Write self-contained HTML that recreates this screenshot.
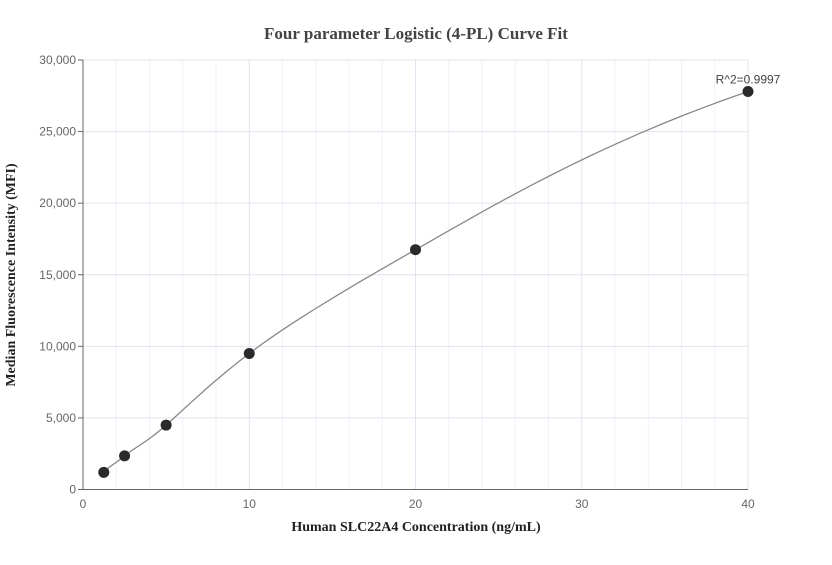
<!DOCTYPE html>
<html><head><meta charset="utf-8"><style>
body{margin:0;background:#fff;width:832px;height:560px;overflow:hidden}
svg{font-family:"Liberation Sans",sans-serif}
</style></head><body>
<svg id="chart" width="832" height="560">
<text x="416" y="39" text-anchor="middle" font-family="Liberation Serif" font-weight="bold" font-size="17" fill="#444">Four parameter Logistic (4-PL) Curve Fit</text>
<g id="grid"></g><g id="axes"></g><g id="marks"></g>
<text x="416" y="531" text-anchor="middle" font-family="Liberation Serif" font-weight="bold" font-size="14" fill="#222">Human SLC22A4 Concentration (ng/mL)</text>
<text transform="translate(15,275) rotate(-90)" text-anchor="middle" font-family="Liberation Serif" font-weight="bold" font-size="14" fill="#222">Median Fluorescence Intensity (MFI)</text>
</svg>
<script>
const xs=[1.25,2.5,5,10,20,40];
const ys=[1200,2350,4500,9500,16750,27800];
const xTicks=[0,10,20,30,40];
const yTicks=[0,5000,10000,15000,20000,25000,30000];
const r2Label="R^2=0.9997";
const X=v=>83+v*(748-83)/40, Y=v=>489.5-v*(489.5-60)/30000;
const NS="http://www.w3.org/2000/svg";
function mk(p,t,a){const e=document.createElementNS(NS,t);for(const k in a)e.setAttribute(k,a[k]);document.getElementById(p).appendChild(e);return e;}
for(let v=2;v<=40;v+=2){const l=mk('grid','line',{x1:X(v),x2:X(v),y1:60,y2:489.5,stroke:v%10?'#f0f2fa':'#e0e4ee'});

}
yTicks.forEach(v=>{if(v){const l=mk('grid','line',{x1:83,x2:748,y1:Y(v),y2:Y(v),stroke:'#e0e4ee'});

}
const t=mk('axes','text',{x:76,y:Y(v)+4,'text-anchor':'end','font-size':12,fill:'#666'});t.textContent=v.toLocaleString('en-US');


mk('axes','line',{x1:78,x2:83,y1:Y(v),y2:Y(v),stroke:'#666'});});
xTicks.forEach(v=>{const t=mk('axes','text',{x:X(v),y:508,'text-anchor':'middle','font-size':12,fill:'#666'});t.textContent=v;

});
const ax=mk('axes','path',{d:`M83,60V489.5H748`,stroke:'#666',fill:'none'});


// smooth curve: Catmull-Rom in (log x, y) space, sampled
const L=xs.map(x=>Math.log(x));let d='';
for(let i=0;i<xs.length-1;i++){
  const i0=Math.max(0,i-1),i3=Math.min(xs.length-1,i+2);
  const h=L[i+1]-L[i];
  const m1=(ys[i+1]-ys[i0])/(L[i+1]-L[i0])*h, m2=(ys[i3]-ys[i])/(L[i3]-L[i])*h;
  for(let k=0;k<=20;k++){const t=k/20,t2=t*t,t3=t2*t;
    const y=(2*t3-3*t2+1)*ys[i]+(t3-2*t2+t)*m1+(-2*t3+3*t2)*ys[i+1]+(t3-t2)*m2;
    const x=Math.exp(L[i]+t*h);
    d+=(d?'L':'M')+X(x).toFixed(2)+','+Y(y).toFixed(2);}
}
const c=mk('marks','path',{d,stroke:'#888',fill:'none','stroke-width':1.3});


xs.forEach((x,i)=>{const e=mk('marks','circle',{cx:X(x),cy:Y(ys[i]),r:5.5,fill:'#2a2a2a'});

});
const lab=mk('marks','text',{x:X(xs[5]),y:Y(ys[5])-8,'text-anchor':'middle','font-size':12,fill:'#444'});lab.textContent=r2Label;


</script>
</body></html>
